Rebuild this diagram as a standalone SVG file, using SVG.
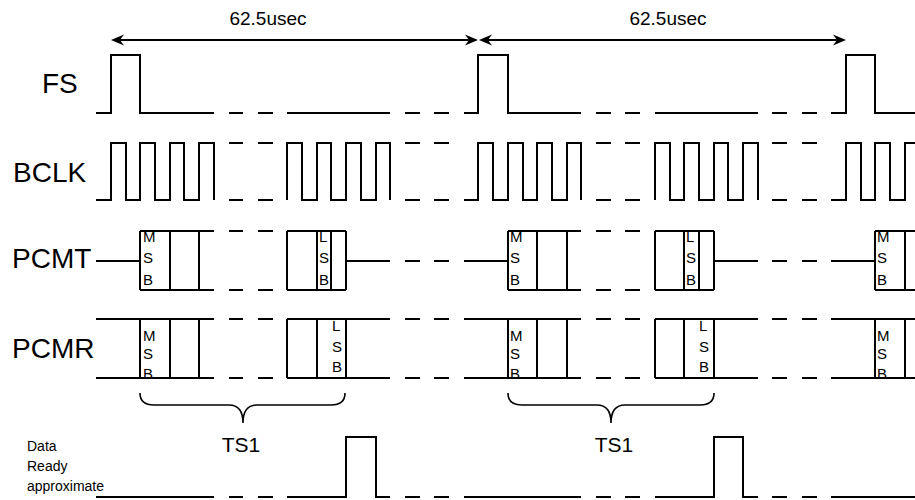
<svg xmlns="http://www.w3.org/2000/svg" width="915" height="500" viewBox="0 0 915 500">
<style>
.w{fill:none;stroke:#000;stroke-width:2;stroke-linecap:butt;stroke-linejoin:miter}
.br{fill:none;stroke:#000;stroke-width:1.6}
.lbl{font-family:"Liberation Sans",Arial,sans-serif;font-size:28px;fill:#000}
.bit{font-family:"Liberation Sans",Arial,sans-serif;font-size:15px;fill:#000}
.dim{font-family:"Liberation Sans",Arial,sans-serif;font-size:19px;fill:#000;text-anchor:middle}
.ts{font-family:"Liberation Sans",Arial,sans-serif;font-size:21px;fill:#000;text-anchor:middle}
.dr{font-family:"Liberation Sans",Arial,sans-serif;font-size:14px;fill:#000}
</style>
<defs>
<marker id="ah" viewBox="-22 -7 24 14" refX="-8" refY="0" markerWidth="24" markerHeight="14" markerUnits="userSpaceOnUse" orient="auto-start-reverse">
<path d="M0,0 L-13,-5.5 L-9,0 L-13,5.5 Z" fill="#000"/>
</marker>
</defs>
<rect width="915" height="500" fill="#fff"/>

<g id="period-arrows">
<path class="w" d="M119,40 H470" marker-start="url(#ah)" marker-end="url(#ah)"/>
<path class="w" d="M487,40 H838" marker-start="url(#ah)" marker-end="url(#ah)"/>
<text class="dim" x="268" y="25">62.5usec</text>
<text class="dim" x="668" y="25">62.5usec</text>
</g>

<g id="FS">
<text class="lbl" x="42" y="93">FS</text>
<path class="w" d="M96,113 H111 V55 H140 V113 H214 M229,113 H243 M258,113 H273 M287,113 H390 M405,113 H420 M434,113 H449 M464,113 H478 V55 H508 V113 H581 M596,113 H611 M625,113 H640 M655,113 H758 M772,113 H787 M802,113 H817 M831,113 H846 V55 H875 V113 H915"/>
</g>

<g id="BCLK">
<text class="lbl" x="13" y="182">BCLK</text>
<path class="w" d="M96,200 H111 V143 H126 V200 H140 V143 H155 V200 H170 V143 H184 V200 H199 V143 H214 V200
M229,143 H243 M258,143 H273 M229,200 H243 M258,200 H273
M287,200 V143 H302 V200 H317 V143 H331 V200 H346 V143 H361 V200 H376 V143 H390 V200
M405,143 H420 M434,143 H449 M405,200 H420 M434,200 H449
M464,200 H478 V143 H493 V200 H508 V143 H523 V200 H537 V143 H552 V200 H567 V143 H581 V200
M596,143 H611 M625,143 H640 M596,200 H611 M625,200 H640
M655,200 V143 H670 V200 H684 V143 H699 V200 H714 V143 H728 V200 H743 V143 H758 V200
M772,143 H787 M802,143 H817 M772,200 H787 M802,200 H817
M831,200 H846 V143 H861 V200 H875 V143 H890 V200 H905 V143 H915"/>
</g>

<g id="PCMT">
<text class="lbl" x="12" y="268">PCMT</text>
<path class="w" d="M96,261 H140
M140,231 V290 M170,231 V290 M199,231 V290 M140,231 H214 M140,290 H214
M229,231 H243 M258,231 H273 M229,290 H243 M258,290 H273
M287,231 V290 M317,231 V290 M331,231 V290 M346,231 V290 M287,231 H346 M287,290 H346
M346,261 H390 M405,261 H420 M434,261 H449 M464,261 H508
M508,231 V290 M537,231 V290 M567,231 V290 M508,231 H581 M508,290 H581
M596,231 H611 M625,231 H640 M596,290 H611 M625,290 H640
M655,231 V290 M684,231 V290 M699,231 V290 M714,231 V290 M655,231 H714 M655,290 H714
M714,261 H758 M772,261 H787 M802,261 H817 M831,261 H875
M875,231 V290 M905,231 V290 M875,231 H915 M875,290 H915"/>
<text class="bit" x="143" y="242">M</text><text class="bit" x="143" y="263">S</text><text class="bit" x="143" y="285">B</text>
<text class="bit" x="319" y="242">L</text><text class="bit" x="319" y="263">S</text><text class="bit" x="319" y="285">B</text>
<text class="bit" x="510" y="242">M</text><text class="bit" x="510" y="263">S</text><text class="bit" x="510" y="285">B</text>
<text class="bit" x="686" y="242">L</text><text class="bit" x="686" y="263">S</text><text class="bit" x="686" y="285">B</text>
<text class="bit" x="877" y="242">M</text><text class="bit" x="877" y="263">S</text><text class="bit" x="877" y="285">B</text>
</g>

<g id="PCMR">
<text class="lbl" x="12" y="358">PCMR</text>
<path class="w" d="M96,319 H214 M96,378 H214 M140,319 V378 M170,319 V378 M199,319 V378
M229,319 H243 M258,319 H273 M229,378 H243 M258,378 H273
M287,319 H390 M287,378 H390 M287,319 V378 M317,319 V378 M346,319 V378
M405,319 H420 M434,319 H449 M405,378 H420 M434,378 H449
M464,319 H581 M464,378 H581 M508,319 V378 M537,319 V378 M567,319 V378
M596,319 H611 M625,319 H640 M596,378 H611 M625,378 H640
M655,319 H758 M655,378 H758 M655,319 V378 M684,319 V378 M714,319 V378
M772,319 H787 M802,319 H817 M772,378 H787 M802,378 H817
M831,319 H915 M831,378 H915 M875,319 V378 M905,319 V378"/>
<text class="bit" x="143" y="341">M</text><text class="bit" x="143" y="359">S</text><text class="bit" x="143" y="379">B</text>
<text class="bit" x="332" y="331">L</text><text class="bit" x="332" y="352">S</text><text class="bit" x="332" y="372">B</text>
<text class="bit" x="510" y="341">M</text><text class="bit" x="510" y="359">S</text><text class="bit" x="510" y="379">B</text>
<text class="bit" x="699" y="331">L</text><text class="bit" x="699" y="352">S</text><text class="bit" x="699" y="372">B</text>
<text class="bit" x="877" y="341">M</text><text class="bit" x="877" y="359">S</text><text class="bit" x="877" y="379">B</text>
</g>

<g id="TS1-braces">
<path class="br" d="M140,393 Q140,405 154,405 H229 Q243,405 243,423 Q243,405 257,405 H331 Q345,405 345,393"/>
<path class="br" d="M508,393 Q508,405 522,405 H597 Q611,405 611,423 Q611,405 625,405 H700 Q714,405 714,393"/>
<text class="ts" x="241" y="452">TS1</text>
<text class="ts" x="614" y="452">TS1</text>
</g>

<g id="DataReady">
<text class="dr" x="27" y="451">Data</text>
<text class="dr" x="27" y="471">Ready</text>
<text class="dr" x="27" y="491">approximate</text>
<path class="w" d="M96,497 H214 M229,497 H243 M258,497 H273 M287,497 H346 V437 H376 V497 H390 M405,497 H420 M434,497 H449 M464,497 H581 M596,497 H611 M625,497 H640 M655,497 H714 V437 H743 V497 H758 M772,497 H787 M802,497 H817 M831,497 H915"/>
</g>
</svg>
